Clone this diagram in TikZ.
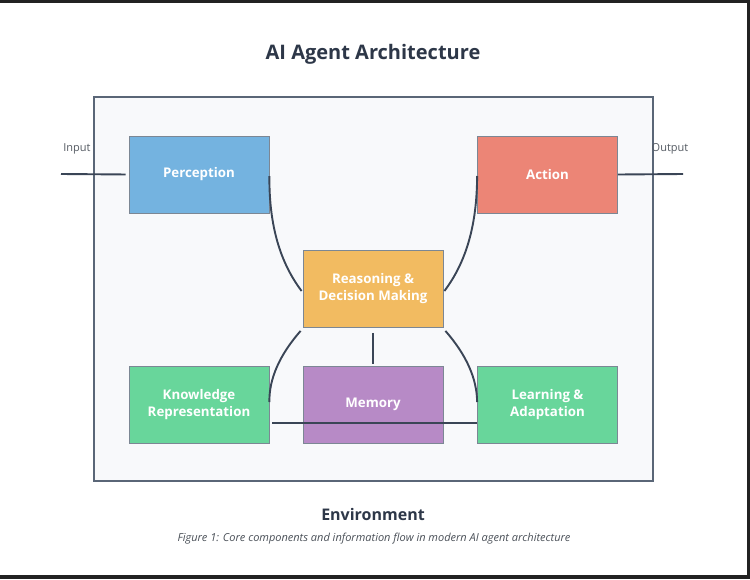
\documentclass[tikz,border=0pt]{standalone}
\usepackage{fontspec}
\setmainfont{Open Sans}
\usetikzlibrary{calc}
\definecolor{frame}{HTML}{222222}
\definecolor{titlec}{HTML}{2D3748}
\definecolor{envfill}{HTML}{F8F9FB}
\definecolor{envdraw}{HTML}{5A6677}
\definecolor{linec}{HTML}{3A4556}
\definecolor{boxdraw}{HTML}{7C8794}
\definecolor{cblue}{HTML}{74B3E0}
\definecolor{cred}{HTML}{EC8576}
\definecolor{corange}{HTML}{F2BB61}
\definecolor{cpurple}{HTML}{B78AC6}
\definecolor{cgreen}{HTML}{68D69B}
\definecolor{labelc}{HTML}{555B63}
\definecolor{capc}{HTML}{4A5058}
\begin{document}
\begin{tikzpicture}[x=1pt,y=-1pt,
  compbox/.style={draw=boxdraw, line width=0.8pt, minimum width=140pt, minimum height=77pt,
    inner sep=0pt, text=white, align=center,
    font=\fontsize{13.3}{17}\selectfont\bfseries},
  conn/.style={draw=linec, line width=1.9pt},
  sidelabel/.style={text=labelc, font=\fontsize{11}{13}\selectfont, inner sep=0pt}]
\useasboundingbox (0,0) rectangle (750,579);
\fill[frame] (0,0) rectangle (750,579);
\fill[white] (0,3) rectangle (747,575);
\node[text=titlec, font=\fontsize{20}{24}\selectfont\bfseries] (title) at (373,54) {AI Agent Architecture};
\draw[envdraw, fill=envfill, line width=2pt] (94,97) rectangle (653,481);
\node[compbox, fill=cblue] (perc) at (199,174.5) {Perception};
\node[compbox, fill=cred] (act) at (547.5,174.5) {Action};
\node[compbox, fill=corange] (reas) at (373,289) {Reasoning \&\\Decision Making};
\node[compbox, fill=cpurple] (mem) at (373,404.5) {Memory};
\node[compbox, fill=cgreen] (know) at (199,404.5) {Knowledge\\Representation};
\node[compbox, fill=cgreen] (lrn) at (547.5,404.5) {Learning \&\\Adaptation};
\node[sidelabel] (inlab) at (77,148.5) {Input};
\node[sidelabel] (outlab) at (670,148.5) {Output};
\node[text=titlec, font=\fontsize{16}{19}\selectfont\bfseries] (env) at (373,514) {Environment};
\node[text=capc, font=\fontsize{11}{13}\selectfont\itshape] (cap) at (374,539) {Figure 1: Core components and information flow in modern AI agent architecture};
\coordinate (inend) at (61,174);
\coordinate (outend) at (683,174);
\draw[conn, shorten >=3pt] (inend) -- (perc.west);
\draw[conn] (act.east) -- (outend);
\draw[conn] ([yshift=-1.5pt]perc.east) .. controls (269,225.3) and (280,262.3) .. ([shift={(-1pt,-2pt)}]reas.west);
\draw[conn] ([yshift=-1.5pt]act.west) .. controls (477,225.3) and (466,262.3) .. ([shift={(1pt,-2pt)}]reas.east);
\draw[conn] ([shift={(-2pt,-3pt)}]reas.south west) .. controls (279.7,354.7) and (269,378.7) .. ([yshift=2.5pt]know.east);
\draw[conn] ([shift={(2pt,-3pt)}]reas.south east) .. controls (466.3,354.7) and (477,378.7) .. ([yshift=2.5pt]lrn.west);
\draw[conn, shorten <=5pt, shorten >=2pt] (reas.south) -- (mem.north);
\draw[conn, shorten <=3pt] ([yshift=-18.5pt]know.east) -- ([yshift=-18.5pt]lrn.west);
\end{tikzpicture}
\end{document}
